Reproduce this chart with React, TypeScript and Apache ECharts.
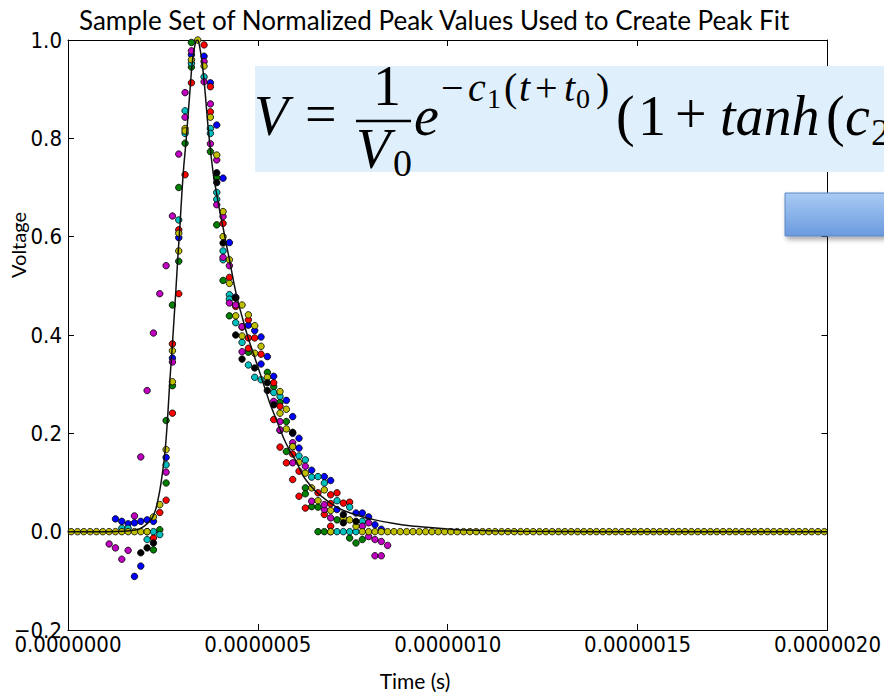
import React, { useEffect, useRef } from "react";
import * as echarts from "echarts";

// sampling grid: 60 MS/s, sample i sits at (i + 0.5) * DT
const DT = 1 / 60e6;

const TITLE = "Sample Set of Normalized Peak Values Used to Create Peak Fit";
const X_TICK_LABELS = ["0.0000000", "0.0000005", "0.0000010", "0.0000015", "0.0000020"];
const Y_TICK_LABELS = ["\u22120.2", "0.0", "0.2", "0.4", "0.6", "0.8", "1.0"];

// [sample index, normalized voltage]
const BLUE: [number, number][] = [
  [7, 0.026], [8, 0.021], [9, 0.016], [10, 0.018], [11, 0.021], [12, 0.024], [13, 0.021],
  [10, -0.091], [11, -0.07], [15, 0.151], [16, 0.353], [17, 0.598], [19, 0.97], [21, 0.967],
  [22, 0.913], [23, 0.827], [24, 0.719], [25, 0.588], [26, 0.477], [28, 0.42], [29, 0.409],
  [30, 0.396], [30, 0.341], [31, 0.356], [32, 0.316], [34, 0.267], [35, 0.234], [35, 0.2],
  [36, 0.19], [36, 0.17], [38, 0.125], [40, 0.112], [41, 0.104], [42, 0.045], [45, 0.038],
  [46, 0.038], [47, 0.03], [48, 0.014], [49, 0.005],
];
const GREEN: [number, number][] = [
  [13, -0.037], [14, 0.004], [15, 0.099], [15, 0.226], [16, 0.297], [16, 0.461], [17, 0.55],
  [17, 0.7], [18, 0.79], [19, 0.945], [19, 0.995], [22, 0.773], [23, 0.72], [23, 0.624],
  [24, 0.511], [25, 0.439], [28, 0.365], [31, 0.324], [32, 0.295], [33, 0.263], [34, 0.224],
  [34, 0.163], [37, 0.089], [37, 0.077], [38, 0.051], [39, 0.05], [39, 0], [40, 0], [41, 0],
  [42, 0.024], [44, -0.013], [45, -0.023], [46, -0.016],
];
const RED: [number, number][] = [
  [13, -0.013], [14, 0.039], [15, 0.064], [16, 0.241], [16, 0.382], [17, 0.484], [17, 0.614],
  [18, 0.726], [19, 0.913], [21, 0.99], [22, 0.905], [22, 0.854], [24, 0.627], [25, 0.517],
  [26, 0.458], [27, 0.416], [28, 0.431], [28, 0.394], [28, 0.373], [29, 0.394], [30, 0.361],
  [32, 0.303], [32, 0.228], [33, 0.255], [33, 0.172], [34, 0.14], [35, 0.158], [35, 0.106],
  [36, 0.123], [36, 0.072], [37, 0.048], [39, 0.079], [40, 0.035], [41, 0.075], [41, 0.057],
  [41, 0.011], [42, 0.079], [43, 0.058], [44, 0.06],
];
const CYAN: [number, number][] = [
  [8, 0.007], [9, 0.007], [12, 0], [13, 0], [12, -0.016], [14, -0.006], [15, 0.136], [17, 0.634],
  [18, 0.856], [18, 0.81], [19, 0.953], [21, 0.925], [22, 0.82], [22, 0.81], [23, 0.69],
  [23, 0.676], [24, 0.571], [24, 0.553], [25, 0.482], [25, 0.473], [26, 0.425], [27, 0.385],
  [28, 0.339], [29, 0.314], [30, 0.309], [32, 0.283], [33, 0.275], [33, 0.206], [36, 0.154],
  [37, 0.146], [38, 0.111], [39, 0.112], [40, 0.099], [42, 0.063], [44, 0.05], [46, 0.021],
  [42, 0], [43, 0], [44, 0], [45, 0],
];
const MAGENTA: [number, number][] = [
  [6, -0.025], [7, -0.033], [8, -0.056], [9, -0.038], [10, 0.032], [11, 0.152], [12, 0.287],
  [13, 0.404], [14, 0.484], [15, 0.121], [15, 0.541], [16, 0.345], [16, 0.642], [17, 0.768],
  [18, 0.843], [18, 0.893], [19, 0.978], [21, 0.956], [21, 0.915], [22, 0.87], [22, 0.789],
  [23, 0.756], [23, 0.665], [24, 0.641], [24, 0.558], [25, 0.541], [25, 0.465], [26, 0.461],
  [27, 0.417], [27, 0.366], [32, 0.265], [33, 0.224], [33, 0.207], [35, 0.181], [35, 0.173],
  [35, 0.14], [37, 0.133], [38, 0.062], [40, 0.045], [40, 0.055], [41, 0.028], [46, 0.011],
  [47, 0.018], [47, -0.01], [48, -0.016], [49, -0.02], [50, -0.028], [48, -0.049], [49, -0.049],
];
const YELLOW: [number, number][] = [
  [13, 0.03], [14, 0.055], [15, 0.167], [16, 0.368], [16, 0.305], [17, 0.607], [17, 0.571],
  [18, 0.82], [18, 0.815], [19, 0.96], [20, 1.0], [21, 0.947], [22, 0.843], [23, 0.766],
  [24, 0.651], [24, 0.6], [25, 0.553], [25, 0.505], [26, 0.439], [27, 0.461], [27, 0.398],
  [28, 0.441], [29, 0.419], [29, 0.363], [30, 0.377], [31, 0.314], [33, 0.285], [33, 0.241],
  [34, 0.249], [34, 0.209], [35, 0.173], [36, 0.141], [37, 0.119], [38, 0.089], [39, 0.063],
  [40, 0.085], [41, 0.043], [41, 0], [43, 0.028], [44, 0.024], [45, 0.011],
];
// spans of sample indices where the yellow trace reads exactly 0
const YELLOW_ZERO_SPANS: [number, number][] = [[0, 12], [46, 119]];
const BLACK: [number, number][] = [
  [11, -0.043], [12, -0.033], [13, -0.023], [23, 0.73], [23, 0.71], [24, 0.587], [26, 0.475],
  [26, 0.4], [27, 0.351], [29, 0.333], [31, 0.303], [31, 0.287], [32, 0.258], [35, 0.202],
  [43, 0.035], [43, 0.018], [45, 0.021],
];

// fitted curve, time in microseconds
const FIT_T = [
  0, 0.084, 0.163, 0.189, 0.205, 0.216, 0.224, 0.232, 0.237, 0.242, 0.247, 0.253, 0.258,
  0.263, 0.268, 0.274, 0.279, 0.284, 0.289, 0.295, 0.3, 0.305, 0.311, 0.316, 0.321, 0.326,
  0.332, 0.337, 0.342, 0.347, 0.353, 0.361, 0.368, 0.376, 0.384, 0.392, 0.4, 0.408, 0.418,
  0.426, 0.437, 0.447, 0.461, 0.474, 0.487, 0.5, 0.513, 0.532, 0.55, 0.568, 0.584, 0.603,
  0.618, 0.637, 0.658, 0.682, 0.705, 0.729, 0.768, 0.808, 0.855, 0.9, 0.945, 0.992, 1.032,
  1.111, 1.189, 1.4, 2.0,
];
const FIT_V = [
  0, 0, 0.002, 0.006, 0.014, 0.022, 0.031, 0.048, 0.065, 0.085, 0.11, 0.145, 0.185, 0.24,
  0.305, 0.37, 0.43, 0.49, 0.555, 0.625, 0.69, 0.745, 0.795, 0.845, 0.895, 0.945, 0.98, 0.998,
  1.0, 0.985, 0.955, 0.895, 0.83, 0.77, 0.72, 0.685, 0.65, 0.62, 0.58, 0.55, 0.505, 0.47,
  0.43, 0.395, 0.365, 0.335, 0.305, 0.26, 0.225, 0.19, 0.165, 0.14, 0.115, 0.095, 0.078,
  0.063, 0.051, 0.042, 0.032, 0.024, 0.017, 0.012, 0.009, 0.006, 0.004, 0.002, 0.001, 0, 0,
];

const SERIES_DEF: { name: string; color: string; pts: [number, number][] }[] = [
  { name: "b", color: "#0000ff", pts: BLUE },
  { name: "g", color: "#008000", pts: GREEN },
  { name: "r", color: "#ff0000", pts: RED },
  { name: "c", color: "#00bfbf", pts: CYAN },
  { name: "m", color: "#bf00bf", pts: MAGENTA },
  { name: "y", color: "#bfbf00", pts: YELLOW },
  { name: "k", color: "#000000", pts: BLACK },
];

const SERIF = '"Liberation Serif", "Times New Roman", serif';

function mathText(text: string, x: number, y: number, size: number, italic: boolean) {
  return {
    type: "text",
    x,
    y,
    z: 102,
    style: {
      text,
      font: `${italic ? "italic " : ""}${size}px ${SERIF}`,
      fill: "#000",
      align: "left",
      verticalAlign: "middle",
      textAlign: "left",
      textVerticalAlign: "middle",
    },
  };
}

export default function App() {
  const ref = useRef<HTMLDivElement>(null);

  useEffect(() => {
    if (!ref.current) return;
    const chart = echarts.init(ref.current, undefined, { renderer: "svg" });

    const toPt = (p: [number, number]) => [(p[0] + 0.5) * DT, p[1]];

    const scatterSeries = SERIES_DEF.map((s) => {
      let data = s.pts.map(toPt);
      if (s.name === "y") {
        const zeros: number[][] = [];
        YELLOW_ZERO_SPANS.forEach(([a, b]) => {
          for (let i = a; i <= b; i++) zeros.push(toPt([i, 0]));
        });
        data = zeros.concat(data);
      }
      return {
        type: "scatter",
        name: s.name,
        data,
        symbol: "circle",
        symbolSize: 6.5,
        xAxisIndex: 0,
        yAxisIndex: 0,
        itemStyle: { color: s.color, borderColor: "#000", borderWidth: 0.8, opacity: 1 },
        z: 2,
      };
    });

    const fitData = FIT_T.map((t, i) => [t * 1e-6, FIT_V[i]]);

    const labelFont = { fontFamily: '"DejaVu Sans Condensed", "DejaVu Sans", sans-serif', fontSize: 22, color: "#000" };

    const xBase = {
      type: "value",
      min: 0,
      max: 2e-6,
      interval: 5e-7,
      splitLine: { show: false },
      axisLine: { show: true, onZero: false, lineStyle: { color: "#000", width: 1 } },
      axisTick: { show: true, inside: true, length: 6, lineStyle: { color: "#000", width: 1 } },
    };
    const yBase = {
      type: "value",
      min: -0.2,
      max: 1.0,
      interval: 0.2,
      splitLine: { show: false },
      axisLine: { show: true, onZero: false, lineStyle: { color: "#000", width: 1 } },
      axisTick: { show: true, inside: true, length: 6, lineStyle: { color: "#000", width: 1 } },
    };

    const formula = [
      mathText("V", 254, 116, 56, true),
      mathText("=", 305, 114, 56, false),
      mathText("1", 373, 86, 56, false),
      mathText("V", 356, 149, 56, true),
      mathText("0", 393, 163, 38, false),
      mathText("e", 414, 116, 56, true),
      mathText("\u2212", 441, 87, 40, false),
      mathText("c", 468, 87, 40, true),
      mathText("1", 487, 98, 28, false),
      mathText("(", 504, 87, 40, false),
      mathText("t", 519, 87, 40, true),
      mathText("+", 535, 87, 40, false),
      mathText("t", 564, 87, 40, true),
      mathText("0", 576, 98, 28, false),
      mathText(")", 596, 87, 40, false),
      mathText("(", 616, 116, 56, false),
      mathText("1", 638, 116, 56, false),
      mathText("+", 675, 114, 56, false),
      mathText("tanh", 720, 116, 56, true),
      mathText("(", 826, 116, 56, false),
      mathText("c", 845, 116, 56, true),
      mathText("2", 871, 132, 38, false),
    ];

    chart.setOption({
      animation: false,
      backgroundColor: "#fff",
      title: {
        text: TITLE,
        left: 74,
        top: 2,
        textStyle: { fontFamily: "Lato, sans-serif", fontSize: 26, fontWeight: "normal", color: "#000" },
      },
      grid: { left: 68, right: 56, top: 40, bottom: 64, containLabel: false },
      xAxis: [
        {
          ...xBase,
          position: "bottom",
          axisLabel: {
            ...labelFont,
            margin: 3,
            formatter: (v: number) => X_TICK_LABELS[Math.round(v / 5e-7)] ?? "",
          },
        },
        { ...xBase, position: "top", axisLabel: { show: false } },
      ],
      yAxis: [
        {
          ...yBase,
          position: "left",
          axisLabel: {
            ...labelFont,
            margin: 6,
            formatter: (v: number) => Y_TICK_LABELS[Math.round((v + 0.2) / 0.2)] ?? "",
          },
        },
        { ...yBase, position: "right", axisLabel: { show: false } },
      ],
      series: [
        ...scatterSeries,
        {
          type: "line",
          name: "fit",
          data: fitData,
          showSymbol: false,
          symbol: "none",
          smooth: 0.2,
          xAxisIndex: 0,
          yAxisIndex: 0,
          lineStyle: { color: "#111", width: 1.5 },
          z: 3,
        },
      ],
      graphic: [
        {
          type: "text",
          x: 18,
          y: 245,
          rotation: Math.PI / 2,
          style: {
            text: "Voltage",
            font: "20px Lato, sans-serif",
            fill: "#000",
            align: "center",
            verticalAlign: "middle",
            textAlign: "center",
            textVerticalAlign: "middle",
          },
        },
        {
          type: "text",
          x: 415,
          y: 680,
          style: {
            text: "Time (s)",
            font: "21px Lato, sans-serif",
            fill: "#000",
            align: "center",
            verticalAlign: "middle",
            textAlign: "center",
            textVerticalAlign: "middle",
          },
        },
        {
          type: "rect",
          z: 100,
          shape: { x: 255, y: 66, width: 640, height: 106 },
          style: { fill: "#dff0fc" },
        },
        {
          type: "line",
          z: 102,
          shape: { x1: 356, y1: 121, x2: 411, y2: 121 },
          style: { stroke: "#000", lineWidth: 2.4 },
        },
        ...formula,
        {
          type: "rect",
          z: 100,
          shape: { x: 785, y: 193, width: 120, height: 43 },
          style: {
            fill: new echarts.graphic.LinearGradient(0, 0, 0, 1, [
              { offset: 0, color: "#a9cbf4" },
              { offset: 1, color: "#6a9ade" },
            ]),
            stroke: "#5a86c4",
            lineWidth: 1,
            shadowBlur: 5,
            shadowOffsetX: 2,
            shadowOffsetY: 3,
            shadowColor: "rgba(0,0,0,0.35)",
          },
        },
      ],
    });

    return () => chart.dispose();
  }, []);

  return (
    <div
      ref={ref}
      style={{ position: "fixed", left: 0, top: 0, width: 884, height: 694, background: "#fff" }}
    />
  );
}
